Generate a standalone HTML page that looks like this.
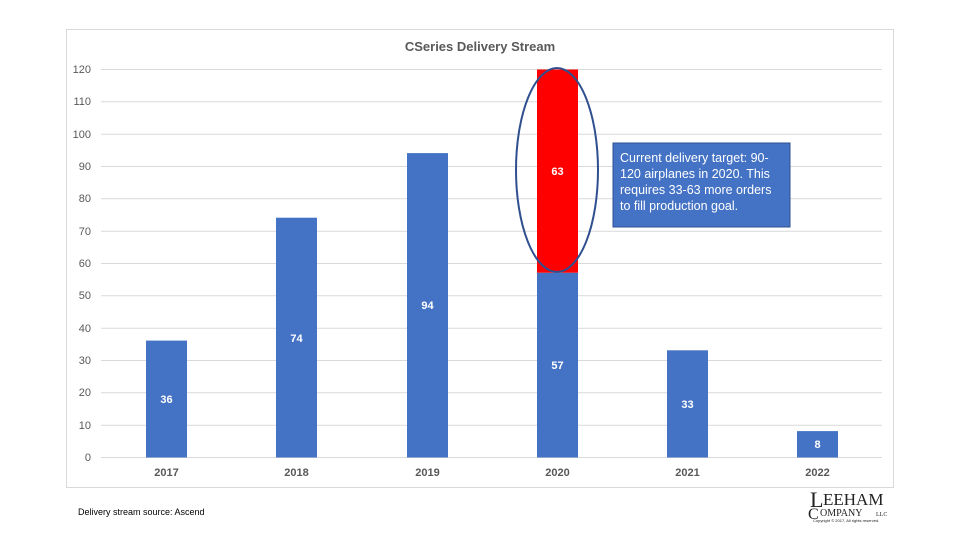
<!DOCTYPE html>
<html><head><meta charset="utf-8"><style>
body{margin:0;width:960px;height:540px;background:#fff;overflow:hidden;font-family:"Liberation Sans",sans-serif}
</style></head><body>
<svg width="960" height="540" xmlns="http://www.w3.org/2000/svg" font-family="Liberation Sans, sans-serif">
<rect x="66.5" y="29.5" width="827" height="458" fill="#fff" stroke="#d9d9d9"/>
<text x="480" y="51" text-anchor="middle" font-size="13" font-weight="bold" fill="#595959">CSeries Delivery Stream</text>
<g stroke="#d9d9d9" stroke-width="1">
<line x1="101" x2="882" y1="69.5" y2="69.5"/><line x1="101" x2="882" y1="101.8" y2="101.8"/>
<line x1="101" x2="882" y1="134.2" y2="134.2"/><line x1="101" x2="882" y1="166.5" y2="166.5"/>
<line x1="101" x2="882" y1="198.8" y2="198.8"/><line x1="101" x2="882" y1="231.2" y2="231.2"/>
<line x1="101" x2="882" y1="263.5" y2="263.5"/><line x1="101" x2="882" y1="295.8" y2="295.8"/>
<line x1="101" x2="882" y1="328.2" y2="328.2"/><line x1="101" x2="882" y1="360.5" y2="360.5"/>
<line x1="101" x2="882" y1="392.8" y2="392.8"/><line x1="101" x2="882" y1="425.2" y2="425.2"/>
<line x1="101" x2="882" y1="457.5" y2="457.5"/>
</g>
<g font-size="11" fill="#595959" text-anchor="end">
<text x="91" y="73">120</text><text x="91" y="105">110</text><text x="91" y="138">100</text>
<text x="91" y="170">90</text><text x="91" y="202">80</text><text x="91" y="235">70</text>
<text x="91" y="267">60</text><text x="91" y="299">50</text><text x="91" y="332">40</text>
<text x="91" y="364">30</text><text x="91" y="396">20</text><text x="91" y="429">10</text>
<text x="91" y="461">0</text>
</g>
<g fill="#4472c4">
<rect x="146" y="340.6" width="41" height="116.9"/>
<rect x="276" y="217.7" width="41" height="239.8"/>
<rect x="407" y="153.1" width="41" height="304.4"/>
<rect x="537" y="272.7" width="41" height="184.8"/>
<rect x="667" y="350.3" width="41" height="107.2"/>
<rect x="797" y="431.1" width="41" height="26.4"/>
</g>
<rect x="537" y="69.5" width="41" height="203.2" fill="#ff0000"/>
<g font-size="11" font-weight="bold" fill="#fff" text-anchor="middle">
<text x="166.5" y="403">36</text><text x="296.5" y="342">74</text><text x="427.5" y="309">94</text>
<text x="557.5" y="369">57</text><text x="557.5" y="175">63</text><text x="687.5" y="408">33</text>
<text x="817.5" y="448">8</text>
</g>
<g font-size="11" font-weight="bold" fill="#595959" text-anchor="middle">
<text x="166.5" y="476">2017</text><text x="296.5" y="476">2018</text><text x="427.5" y="476">2019</text>
<text x="557.5" y="476">2020</text><text x="687.5" y="476">2021</text><text x="817.5" y="476">2022</text>
</g>
<ellipse cx="557" cy="170" rx="41" ry="102" fill="none" stroke="#2f4f8f" stroke-width="2"/>
<rect x="613" y="143" width="177" height="84" fill="#4472c4" stroke="#2f528f"/>
<g font-size="12.5" fill="#fff">
<text x="620" y="162">Current delivery target: 90-</text>
<text x="620" y="178">120 airplanes in 2020.  This</text>
<text x="620" y="194">requires 33-63 more orders</text>
<text x="620" y="210">to fill production goal.</text>
</g>
<text x="78" y="515" font-size="9" fill="#000">Delivery stream source: Ascend</text>
<g font-family="Liberation Serif, serif" fill="#222">
<text x="810" y="507" font-size="22">L</text>
<text x="823" y="505" font-size="17">EEHAM</text>
<text x="808" y="519" font-size="16">C</text>
<text x="820" y="516" font-size="10">OMPANY</text>
<text x="876" y="516" font-size="6">LLC</text>
<text x="813" y="522" font-size="4" font-family="Liberation Sans, sans-serif">Copyright © 2017, All rights reserved.</text>
</g>
</svg>
</body></html>
